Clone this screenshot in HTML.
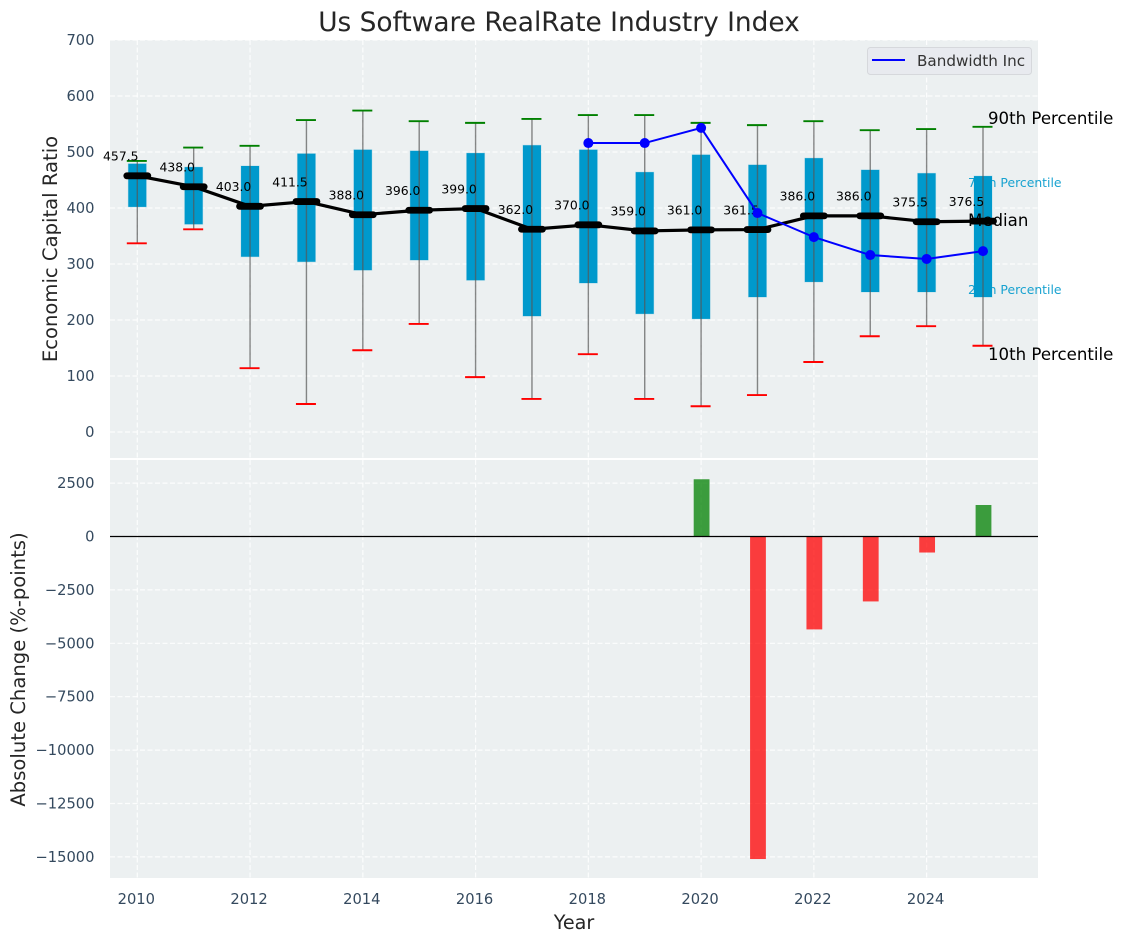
<!DOCTYPE html>
<html lang="en">
<head>
<meta charset="utf-8">
<title>Us Software RealRate Industry Index</title>
<style>
html,body{margin:0;padding:0;background:#fff;}
#chart{display:block;width:1123px;height:942px;}
text{font-family:"DejaVu Sans","Liberation Sans",sans-serif;}
</style>
</head>
<body>
<svg id="chart" xmlns="http://www.w3.org/2000/svg" width="1123" height="942" viewBox="0 0 1123 942">
<defs>
<clipPath id="clip-top"><rect x="110" y="40" width="928" height="418"/></clipPath>
<clipPath id="clip-bottom"><rect x="110" y="460" width="928" height="418"/></clipPath>
</defs>
<rect x="110" y="40" width="928" height="418" fill="#ecf0f1"/>
<rect x="110" y="460" width="928" height="418" fill="#ecf0f1"/>
<g id="grid-top" clip-path="url(#clip-top)"></g>
<g id="grid-bottom" clip-path="url(#clip-bottom)"></g>
<g id="annotations-under"></g>
<g id="boxes"></g>
<g id="annotations-mid"></g>
<g id="medians"></g>
<g id="company"></g>
<g id="bars"></g>
<g id="axes-text"></g>
<g id="annotations-over"></g>
<g>
<rect x="867.5" y="47.5" width="164" height="27" rx="3" fill="#e8eaef" stroke="#d6d8dc" stroke-width="1"/>
<line x1="872" y1="60" x2="905" y2="60" stroke="#0000ff" stroke-width="2"/>
<text x="917" y="66" font-size="15.2" fill="#333333">Bandwidth Inc</text>
</g>
</svg>
<script>
const years = [2010,2011,2012,2013,2014,2015,2016,2017,2018,2019,2020,2021,2022,2023,2024,2025];
const p90 = [484,508,511,557,574,555,552,559,566,566,552,548,555,539,541,545];
const p75 = [479,473,475,497,504,502,498,512,504,464,495,477,489,468,462,457];
const medianValues = [457.5,438,403,411.5,388,396,399,362,370,359,361,361.5,386,386,375.5,376.5];
const p25 = [402,371,313,304,289,307,271,207,266,211,202,241,268,250,250,241];
const p10 = [337,362,114,50,146,193,98,59,139,59,46,66,125,171,189,154];
const companyYears = [2018,2019,2020,2021,2022,2023,2024,2025];
const companyValues = [516,516,543,391,348,316,309,323];
const changeYears = [2020,2021,2022,2023,2024,2025];
const changeValues = [2680,-15100,-4350,-3040,-750,1475];
const xTicks = [2010,2012,2014,2016,2018,2020,2022,2024];
const topTicks = [0,100,200,300,400,500,600,700];
const bottomTicks = [-15000,-12500,-10000,-7500,-5000,-2500,0,2500];

const SVG_NS = 'http://www.w3.org/2000/svg';
function xScale(year){ return 137.3 + (year - 2010) * 56.38; }
function topY(value){ return 432 - value * 0.56; }
function bottomY(value){ return 536.5 - value * 53.4 / 2500; }
function formatTick(value){ return value < 0 ? '\u2212' + Math.abs(value) : String(value); }
function make(tag, parentId, attrs, content){
  const node = document.createElementNS(SVG_NS, tag);
  for (const key in attrs) node.setAttribute(key, attrs[key]);
  if (content !== undefined) node.textContent = content;
  document.getElementById(parentId).appendChild(node);
  return node;
}
const gridStyle = {stroke:'#ffffff','stroke-width':1.2,'stroke-dasharray':'5 2.5','stroke-opacity':0.85};

xTicks.forEach(function(tick){
  const gridA = make('line','grid-top',Object.assign({x1:xScale(tick),x2:xScale(tick),y1:40,y2:458},gridStyle));
  
  
  const gridB = make('line','grid-bottom',Object.assign({x1:xScale(tick),x2:xScale(tick),y1:460,y2:878},gridStyle));
  
  
  const label = make('text','axes-text',{x:xScale(tick)-1,y:904,'font-size':14.7,'text-anchor':'middle',fill:'#34495e'},String(tick));
  
  
});
topTicks.forEach(function(tick){
  const grid = make('line','grid-top',Object.assign({x1:110,x2:1038,y1:topY(tick),y2:topY(tick)},gridStyle));
  
  
  const label = make('text','axes-text',{x:94.5,y:topY(tick)+5,'font-size':14.7,'text-anchor':'end',fill:'#34495e'},formatTick(tick));
  
  
});
bottomTicks.forEach(function(tick){
  const grid = make('line','grid-bottom',Object.assign({x1:110,x2:1038,y1:bottomY(tick),y2:bottomY(tick)},gridStyle));
  
  
  const label = make('text','axes-text',{x:94.5,y:bottomY(tick)+5,'font-size':14.7,'text-anchor':'end',fill:'#34495e'},formatTick(tick));
  
  
});

years.forEach(function(year,i){
  const x = xScale(year);
  const box = make('rect','boxes',{x:x-9,y:topY(p75[i]),width:18,height:topY(p25[i])-topY(p75[i]),fill:'#0099cc','stroke':'#0099cc','stroke-opacity':0.2,'stroke-width':1});
  
  
  const whisker = make('line','boxes',{x1:x,x2:x,y1:topY(p90[i]),y2:topY(p10[i]),stroke:'#555555','stroke-width':1.4,'stroke-opacity':0.7});
  
  
  const capHigh = make('line','boxes',{x1:x-10.5,x2:x+9.5,y1:topY(p90[i]),y2:topY(p90[i]),stroke:'#008000','stroke-width':1.9});
  
  
  const capLow = make('line','boxes',{x1:x-10.5,x2:x+9.5,y1:topY(p10[i]),y2:topY(p10[i]),stroke:'#ff0000','stroke-width':1.9});
  
  
});

const medianLine = make('polyline','medians',{points:years.map(function(year,i){return xScale(year)+','+topY(medianValues[i]);}).join(' '),fill:'none',stroke:'#000000','stroke-width':3.2,'stroke-linejoin':'round'});


years.forEach(function(year,i){
  const x = xScale(year);
  const y = topY(medianValues[i]);
  const mark = make('line','medians',{x1:x-10.5,x2:x+10.5,y1:y,y2:y,stroke:'#000000','stroke-width':6.8,'stroke-linecap':'round'});
  
  
  const label = make('text','medians',{x:x-16.5,y:y-15.3,'font-size':12.4,'text-anchor':'middle',fill:'#000000'},medianValues[i].toFixed(1));
  
  
});

const companyLine = make('polyline','company',{points:companyYears.map(function(year,i){return xScale(year)+','+topY(companyValues[i]);}).join(' '),fill:'none',stroke:'#0000ff','stroke-width':2});


companyYears.forEach(function(year,i){
  const dot = make('circle','company',{cx:xScale(year),cy:topY(companyValues[i]),r:5,fill:'#0000ff'});
  
  
});

changeYears.forEach(function(year,i){
  const value = changeValues[i];
  const y0 = bottomY(Math.max(value,0));
  const y1 = bottomY(Math.min(value,0));
  const bar = make('rect','bars',{x:xScale(year)-7.9+0.5,y:y0,width:15.8,height:y1-y0,fill:value>=0?'#008000':'#ff0000','fill-opacity':0.75});
  
  
});
const zeroLine = make('line','bars',{x1:110,x2:1038,y1:bottomY(0),y2:bottomY(0),stroke:'#000000','stroke-width':1.2});



const labelMedian = make('text','annotations-mid',{x:968,y:226,'font-size':16.6,fill:'#000000'},'Median');


const label75 = make('text','annotations-under',{x:968,y:187,'font-size':12.4,fill:'#0099cc','fill-opacity':0.9},'75th Percentile');


const label25 = make('text','annotations-under',{x:968,y:294,'font-size':12.4,fill:'#0099cc','fill-opacity':0.9},'25th Percentile');


const label90 = make('text','annotations-over',{x:988,y:124,'font-size':16.6,fill:'#000000'},'90th Percentile');


const label10 = make('text','annotations-over',{x:988,y:360,'font-size':16.6,fill:'#000000'},'10th Percentile');



const title = make('text','axes-text',{x:559,y:31,'font-size':26.4,'text-anchor':'middle',fill:'#262626'},'Us Software RealRate Industry Index');


const yTop = make('text','axes-text',{transform:'translate(57,249) rotate(-90)','font-size':19.6,'text-anchor':'middle',fill:'#262626'},'Economic Capital Ratio');


const yBottom = make('text','axes-text',{transform:'translate(25,669.5) rotate(-90)','font-size':19.6,'text-anchor':'middle',fill:'#262626'},'Absolute Change (%-points)');


const xTitle = make('text','axes-text',{x:574,y:929,'font-size':19.2,'text-anchor':'middle',fill:'#262626'},'Year');


</script>
</body>
</html>
